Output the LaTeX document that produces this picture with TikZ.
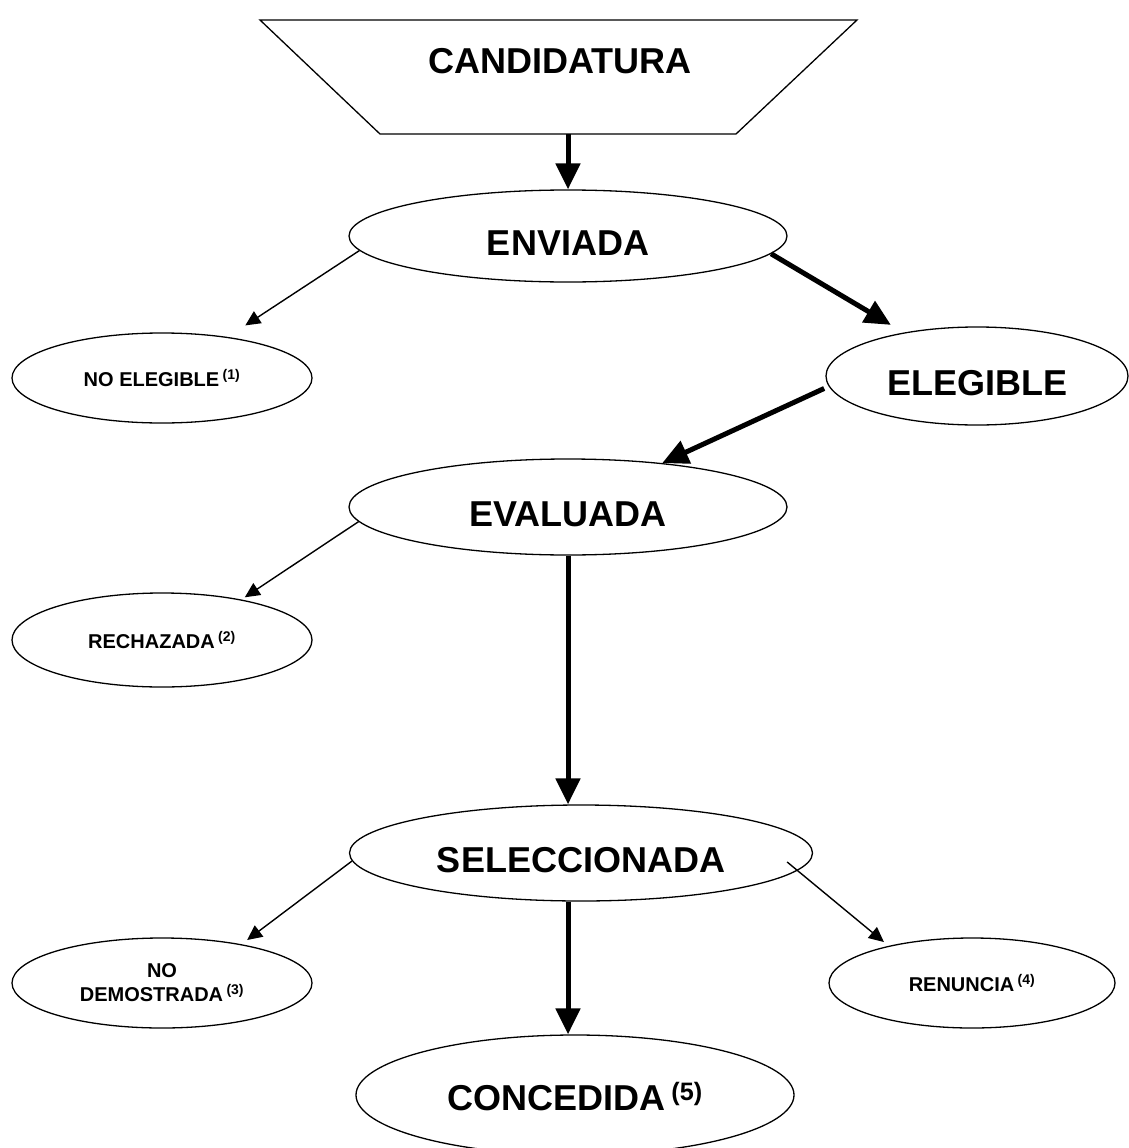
\documentclass[tikz,border=0pt]{standalone}
\usepackage{fontspec}
\setmainfont{Liberation Sans}
\usetikzlibrary{shapes.geometric,arrows.meta}

\begin{document}
\begin{tikzpicture}[x=1pt,y=-1pt,
    state/.style={draw, ellipse, line width=1.3pt, inner sep=0pt, text height=38pt, text depth=0pt, font=\bfseries\fontsize{36}{40}\selectfont},
    minor/.style={draw, ellipse, line width=1.3pt, inner sep=0pt, align=center, font=\bfseries\fontsize{20}{24}\selectfont},
    main/.style={line width=5pt, -{Triangle[length=26pt,width=24pt]}},
    side/.style={line width=1.4pt, -{Triangle[length=15pt,width=14pt]}}]
  \useasboundingbox (0,0) rectangle (1128,1148);

  % input box
  \draw[line width=1.3pt] (260,20) -- (857,20) -- (736,134) -- (380,134) -- cycle;
  \node[font=\bfseries\fontsize{36}{40}\selectfont] (cand) at (560,61) {CANDIDATURA};
  \coordinate (candbase) at (568,134);

  \node[state, minimum width=438pt, minimum height=92pt] (enviada) at (568,236) {ENVIADA};
  \node[minor, minimum width=300pt, minimum height=90pt] (noeleg) at (162,378) {NO ELEGIBLE\,\textsuperscript{(1)}};
  \node[state, minimum width=302pt, minimum height=98pt] (elegible) at (977,376) {ELEGIBLE};
  \node[state, minimum width=438pt, minimum height=96pt] (evaluada) at (568,507) {EVALUADA};
  \node[minor, minimum width=300pt, minimum height=94pt] (rechazada) at (162,640) {RECHAZADA\,\textsuperscript{(2)}};
  \node[state, minimum width=463pt, minimum height=96pt] (seleccionada) at (581,853) {SELECCIONADA};
  \node[minor, minimum width=300pt, minimum height=90pt] (nodemo) at (162,983) {NO\\DEMOSTRADA\,\textsuperscript{(3)}};
  \node[minor, minimum width=286pt, minimum height=90pt] (renuncia) at (972,983) {RENUNCIA\,\textsuperscript{(4)}};
  \node[state, minimum width=438pt, minimum height=120pt, text height=30pt] (concedida) at (575,1095) {CONCEDIDA\,\textsuperscript{(5)}};

  % main path
  \draw[main] (candbase) -- (candbase |- enviada.north);
  \draw[main, shorten >=15pt] (enviada.355) -- (elegible);
  \draw[main, shorten <=5pt] (elegible.184) -- (evaluada.25);
  \draw[main] (evaluada.south) -- (evaluada.south |- seleccionada.north);
  \draw[main] (evaluada.south |- seleccionada.south) -- (evaluada.south |- concedida.north);

  % side exits
  \draw[side, shorten >=21pt] (enviada.184) -- (noeleg.32);
  \draw[side, shorten >=4pt] (evaluada.184) -- (rechazada.27);
  \draw[side, shorten >=7pt] (seleccionada.182) -- (nodemo.26);
  \draw[side, shorten >=6pt] ([xshift=-26pt, yshift=-9pt]seleccionada.east) -- (renuncia.156);
\end{tikzpicture}
\end{document}
